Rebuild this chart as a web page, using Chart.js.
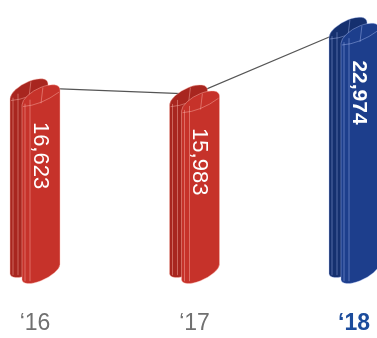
<!DOCTYPE html>
<html><head><meta charset="utf-8">
<script src="https://cdn.jsdelivr.net/npm/chart.js@4"></script>
<style>html,body{margin:0;padding:0;background:#fff;overflow:hidden}canvas{display:block}</style>
</head><body><canvas id="c" width="377" height="338"></canvas>
<script>
const categories = ['\u201816', '\u201817', '\u201818'];
const values = [16623, 15983, 22974];
const valueLabels = ['16,623', '15,983', '22,974'];
const highlight = [false, false, true];
const yMin = -3875;
const yMax = 25700;

const RED = {back:'#a8261f', front:'#c6322a', line:'rgba(255,190,180,0.55)'};
const BLUE = {back:'#15306f', front:'#1d3e8c', line:'rgba(190,205,255,0.5)'};

function slab(ctx, xl, w, yTopLeft, yBotLeft, s, fill, stroke){
  ctx.save();
  ctx.translate(xl, 0);
  ctx.transform(1, s, 0, 1, 0, 0);
  ctx.beginPath();
  ctx.roundRect(0, yTopLeft, w, yBotLeft - yTopLeft, [{x:w/2,y:10},{x:w/2,y:10},{x:w/2,y:9},{x:w/2,y:9}]);
  ctx.fillStyle = fill; ctx.fill();
  ctx.lineWidth = 0.7; ctx.strokeStyle = stroke;
  ctx.stroke();
  ctx.beginPath();
  ctx.moveTo(3, yTopLeft + 10); ctx.lineTo(3, yBotLeft - 6);
  ctx.moveTo(8, yTopLeft + 8); ctx.lineTo(8, yBotLeft - 4);
  ctx.stroke();
  ctx.beginPath();
  ctx.moveTo(1, yTopLeft + 12);
  ctx.quadraticCurveTo(w/2, yTopLeft + 18, w - 1, yTopLeft + 12);
  ctx.stroke();
  ctx.beginPath();
  ctx.moveTo(w*0.55, yTopLeft + 1); ctx.lineTo(w*0.5, yTopLeft + 16);
  ctx.stroke();
  ctx.restore();
}

const capsules = {
  id: 'capsules',
  afterDatasetsDraw(chart){
    const ctx = chart.ctx;
    const meta = chart.getDatasetMeta(0);
    const s = -0.4;
    meta.data.forEach((el, i) => {
      const pal = highlight[i] ? BLUE : RED;
      const w = el.width;
      const xL = el.x - w/2;
      const sw = w * 0.76;
      const dx = w - sw;
      const backTop = el.y - s * (w/2) - 9;
      const frontBot = el.base + 2;
      slab(ctx, xL, sw, backTop, frontBot - 6, s, pal.back, pal.line);
      slab(ctx, xL + dx, sw, backTop + 6, frontBot, s, pal.front, pal.line);
      ctx.save();
      ctx.translate(el.x + 5, el.y + 34);
      ctx.rotate(Math.PI/2);
      ctx.fillStyle = '#ffffff';
      ctx.font = highlight[i] ? 'bold 21px "Liberation Sans", Arial, sans-serif' : '22px "Liberation Sans", Arial, sans-serif';
      ctx.textAlign = 'left';
      ctx.textBaseline = 'middle';
      ctx.fillText(valueLabels[i], 0, 0);
      ctx.restore();
    });
  }
};

new Chart(document.getElementById('c'), {
  data: {
    labels: categories,
    datasets: [
      {type:'bar', data: values, base: yMin, backgroundColor:'rgba(0,0,0,0)', barThickness: 50, order: 0},
      {type:'line', data: values, borderColor:'#555555', borderWidth: 1.1, pointRadius: 0, tension: 0, order: 1, clip: false}
    ]
  },
  options: {
    responsive: false, animation: false, devicePixelRatio: 1,
    layout: {padding: {left: 35, right: 23, top: 0, bottom: 1}},
    plugins: {legend: {display:false}, tooltip: {enabled:false}},
    scales: {
      y: {display: false, min: yMin, max: yMax},
      x: {
        offset: false,
        grid: {display: true, drawOnChartArea: false, drawTicks: true, tickLength: 23, color: 'rgba(0,0,0,0)'},
        border: {display: false},
        ticks: {
          padding: 0,
          maxRotation: 0,
          color: c => highlight[c.index] ? '#1c4c9c' : '#707070',
          font: c => ({family: '"Liberation Sans", Arial, sans-serif', size: 23, weight: highlight[c.index] ? 'bold' : 'normal'})
        }
      }
    }
  },
  plugins: [capsules]
});
</script></body></html>
